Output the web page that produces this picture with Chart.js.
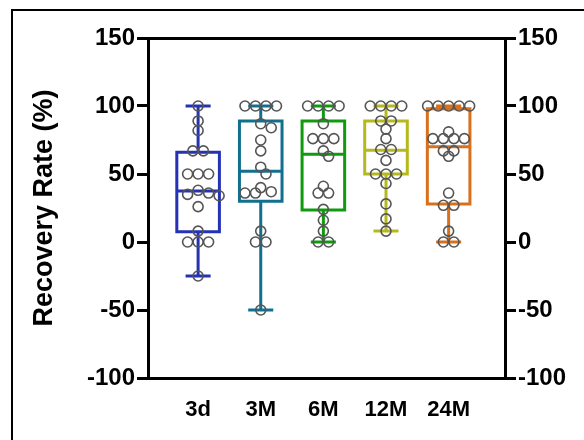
<!DOCTYPE html>
<html>
<head>
<meta charset="utf-8">
<script src="https://cdn.jsdelivr.net/npm/chart.js@4.4.1/dist/chart.umd.min.js"></script>
<style>
    body { margin: 0; background: #fff; overflow: hidden; }
    #frame { position: absolute; left: 11px; top: 9px; width: 700px; height: 600px; border: 2px solid #000; }
    #wrap { position: absolute; left: 0; top: 0; width: 584px; height: 440px; }
</style>
</head>
<body>
<div id="frame"></div>
<div id="wrap"><canvas id="myChart" width="584" height="440"></canvas></div>
<script>
// categories and colours
const categories = ['3d', '3M', '6M', '12M', '24M'];
const boxColors = ['#2532b4', '#12708f', '#109a10', '#b6b91e', '#d8701c'];

// individual values
const values3d = [100, 89, 82, 67, 67, 50, 50, 50, 38, 36, 35, 34, 26, 8, 0, 0, 0, -25];
const values3M = [100, 100, 100, 100, 87, 84, 75, 67, 55, 50, 40, 37, 36, 36, 8, 0, 0, -50];
const values6M = [100, 100, 100, 100, 87, 76, 76, 76, 67, 63, 41, 36, 36, 24, 16, 8, 0, 0];
const values12M = [100, 100, 100, 100, 89, 89, 83, 76, 68, 68, 60, 50, 50, 50, 43, 28, 17, 8];
const values24M = [100, 100, 100, 100, 100, 81, 76, 76, 76, 76, 67, 67, 63, 36, 27, 27, 8, 0, 0];
const allValues = [values3d, values3M, values6M, values12M, values24M];

// box statistics as drawn
const boxMin = [-25, -50, 0, 8, 0];
const boxQ1 = [7.6, 30, 23.5, 50, 28];
const boxMedian = [37.5, 52, 64.5, 67.5, 70];
const boxQ3 = [66, 89, 89, 89, 98];
const boxMax = [100, 100, 100, 100, 100];

const yTicks = [-100, -50, 0, 50, 100, 150];

const fontFamily = '"Liberation Sans", Arial, sans-serif';
const boxHalf = 0.34;   // half box width in x units
const capHalf = 0.2;    // half whisker cap width

function BoxPath(i) {
    const c = i + 1;
    const gap = { x: c, y: null };
    return [
        { x: c, y: boxQ1[i] }, { x: c + boxHalf, y: boxQ1[i] }, { x: c + boxHalf, y: boxQ3[i] },
        { x: c - boxHalf, y: boxQ3[i] }, { x: c - boxHalf, y: boxQ1[i] }, { x: c, y: boxQ1[i] }, gap,
        { x: c - boxHalf, y: boxMedian[i] }, { x: c + boxHalf, y: boxMedian[i] }, gap,
        { x: c, y: boxQ3[i] }, { x: c, y: boxMax[i] }, gap,
        { x: c - capHalf, y: boxMax[i] }, { x: c + capHalf, y: boxMax[i] }, gap,
        { x: c, y: boxQ1[i] }, { x: c, y: boxMin[i] }, gap,
        { x: c - capHalf, y: boxMin[i] }, { x: c + capHalf, y: boxMin[i] }
    ];
}

// simple beeswarm: equal values sit in a centred row, others dodge sideways
function Swarm(values, center, xs, ys, gap) {
    const groups = {};
    values.forEach(v => { (groups[v] = groups[v] || []).push(v); });
    const keys = Object.keys(groups).map(Number).sort((a, b) => b - a);
    const cx = xs.getPixelForValue(center);
    const placed = [];
    const out = [];

    keys.forEach(v => {
        const n = groups[v].length;
        const py = ys.getPixelForValue(v);
        for (let k = 0; k < 40; k++) {
            const shift = (k % 2 ? 1 : -1) * Math.ceil(k / 2) * gap / 2;
            const row = [];
            for (let j = 0; j < n; j++) {
                row.push(cx + shift + (j - (n - 1) / 2) * gap);
            }
            const ok = row.every(px => placed.every(p => Math.hypot(p[0] - px, p[1] - py) >= gap * 0.72));
            if (ok) {
                row.forEach(px => {
                    placed.push([px, py]);
                    out.push({ x: xs.getValueForPixel(px), y: v });
                });
                break;
            }
        }
    });
    return out;
}

const datasets = [];
datasets.push({
    label: 'points',
    data: [],
    showLine: false,
    pointRadius: 5,
    pointBorderWidth: 1.6,
    pointBorderColor: '#555',
    pointBackgroundColor: 'rgba(0,0,0,0)'
});
categories.forEach((name, i) => {
    datasets.push({
        label: name,
        data: BoxPath(i),
        showLine: true,
        spanGaps: false,
        borderColor: boxColors[i],
        borderWidth: 3,
        borderJoinStyle: 'miter',
        borderCapStyle: 'butt',
        pointRadius: 0,
        tension: 0
    });
});

const tickFont = { family: fontFamily, size: 24, weight: 'bold' };

function YAxis(position, width, withTitle) {
    return {
        type: 'linear',
        position: position,
        min: -100,
        max: 150,
        afterBuildTicks: s => { s.ticks = yTicks.map(v => ({ value: v })); },
        afterFit: s => { s.width = width; },
        ticks: { font: tickFont, color: '#000', padding: 2 },
        grid: { display: true, drawOnChartArea: false, drawTicks: true, tickLength: 11, lineWidth: 3, color: '#000' },
        border: { display: true, width: 3, color: '#000' },
        title: {
            display: withTitle,
            text: 'Recovery Rate (%)',
            color: '#000',
            font: { family: fontFamily, size: 27, weight: 'bold' },
            padding: { top: 28, bottom: 0 }
        }
    };
}

chart = new Chart(document.getElementById('myChart'), {
    type: 'scatter',
    data: { datasets: datasets },
    options: {
        responsive: false,
        devicePixelRatio: 1,
        animation: false,
        events: [],
        layout: { padding: { top: 38, left: 0, right: 0, bottom: 0 } },
        plugins: {
            legend: { display: false },
            tooltip: { enabled: false }
        },
        scales: {
            x: {
                type: 'linear',
                position: 'bottom',
                min: 0.2,
                max: 5.9,
                afterBuildTicks: s => { s.ticks = categories.map((c, i) => ({ value: i + 1 })); },
                afterFit: s => { s.height = 62; },
                ticks: {
                    callback: v => categories[v - 1],
                    font: { family: fontFamily, size: 22, weight: 'bold' },
                    color: '#000',
                    padding: 19,
                    maxRotation: 0,
                    autoSkip: false
                },
                grid: { display: true, drawOnChartArea: false, drawTicks: false, color: '#000' },
                border: { display: true, width: 3, color: '#000' }
            },
            xTop: {
                type: 'linear',
                position: 'top',
                min: 0.2,
                max: 5.9,
                afterFit: s => { s.height = 0; },
                ticks: { display: false },
                grid: { display: true, drawOnChartArea: false, drawTicks: false, color: '#000' },
                border: { display: true, width: 3, color: '#000' }
            },
            y: YAxis('left', 148, true),
            y2: YAxis('right', 79, false)
        }
    }
});

// place the dots once the scales exist
const xs = chart.scales.x;
const ys = chart.scales.y;
let points = [];
allValues.forEach((vals, i) => {
    points = points.concat(Swarm(vals, i + 1, xs, ys, 10.5));
});
chart.data.datasets[0].data = points;
chart.update();
</script>
</body>
</html>
